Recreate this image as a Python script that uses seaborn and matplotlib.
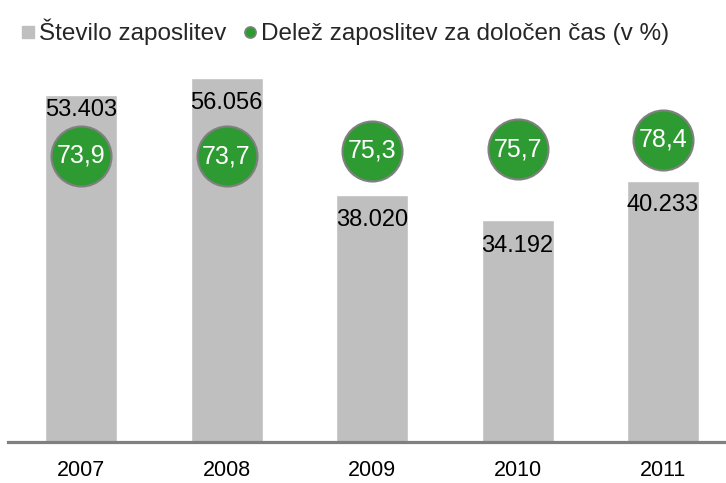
import matplotlib
matplotlib.use("Agg")
import matplotlib.pyplot as plt
import seaborn as sns
import pandas as pd
from matplotlib.lines import Line2D

years = ["2007", "2008", "2009", "2010", "2011"]
employments = [53403, 56056, 38020, 34192, 40233]
share_fixed = [73.9, 73.7, 75.3, 75.7, 78.4]
bar_labels = ["53.403", "56.056", "38.020", "34.192", "40.233"]
share_labels = ["73,9", "73,7", "75,3", "75,7", "78,4"]

sns.set_theme(style="white")
plt.rcParams["font.family"] = ["Liberation Sans", "DejaVu Sans"]

df = pd.DataFrame({"year": years, "emp": employments, "share": share_fixed})

fig = plt.figure(figsize=(7.26, 4.83), dpi=100)
ax = fig.add_axes([8 / 726, 41 / 483, 718 / 726, 382 / 483])

sns.barplot(data=df, x="year", y="emp", color="#BFBFBF", width=0.495,
            saturation=1, ax=ax)
ax.set_xlim(-0.502, 4.433)
ax.set_ylim(0, 58828)
ax.set_xlabel("")
ax.set_ylabel("")
ax.set_yticks([])
for s in ["top", "left", "right"]:
    ax.spines[s].set_visible(False)
ax.spines["bottom"].set_color("#808080")
ax.spines["bottom"].set_linewidth(2.3)
ax.tick_params(axis="x", length=0, pad=13, labelsize=15.5, labelcolor="#000000")

offsets = [-15, -25, -25, -26, -24]
for i, (v, lab) in enumerate(zip(employments, bar_labels)):
    ax.annotate(lab, (i, v), xytext=(0, offsets[i] * 0.72), textcoords="offset points",
                ha="center", va="center", fontsize=17, color="#000000")

ax2 = ax.twinx()
ax2.set_ylim(-6.5, 100.8)
ax2.set_yticks([])
for s in ax2.spines.values():
    s.set_visible(False)
sns.scatterplot(data=df, x="year", y="share", s=1866, color="#2E9A32",
                edgecolor="#808080", linewidth=1.5, ax=ax2, zorder=5, legend=False)
ax2.set_ylabel("")
ax2.set_xlim(-0.502, 4.433)
for i, (v, lab) in enumerate(zip(share_fixed, share_labels)):
    ax2.text(i, v, lab, ha="center", va="center", fontsize=18, color="white", zorder=6)

handles = [
    Line2D([], [], marker="s", linestyle="none", markersize=8, markerfacecolor="#BFBFBF",
           markeredgecolor="#BFBFBF"),
    Line2D([], [], marker="o", linestyle="none", markersize=8, markerfacecolor="#2E9A32",
           markeredgecolor="#808080", markeredgewidth=1.2),
]
fig.legend(handles, ["Število zaposlitev", "Delež zaposlitev za določen čas (v %)"],
           loc="center left", bbox_to_anchor=(0.025, 1 - 32 / 483), ncol=2, frameon=False,
           fontsize=17.5, handletextpad=0.05, columnspacing=0.6, handlelength=0.8,
           borderaxespad=0.0, borderpad=0.0)

fig.savefig("out.png", dpi=100)
